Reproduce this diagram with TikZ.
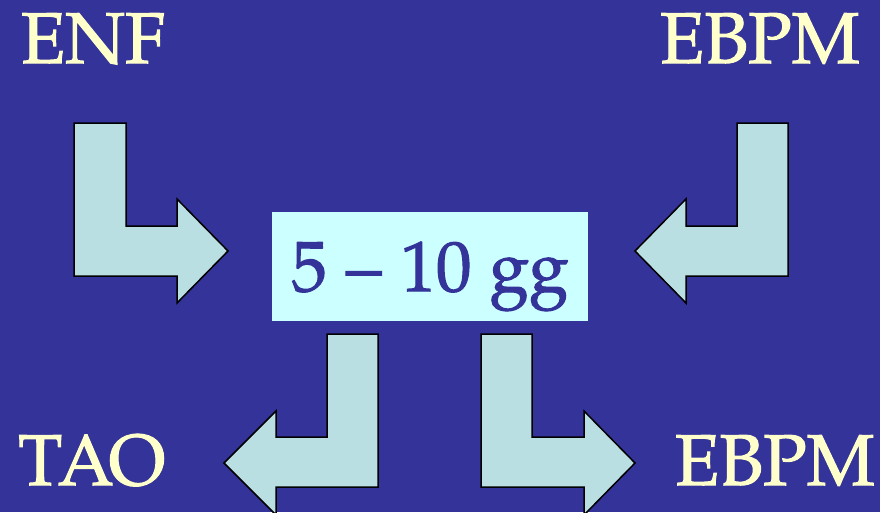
\documentclass[tikz,border=0pt]{standalone}
\usepackage{fontspec}
\setmainfont{TeX Gyre Pagella}[BoldFont={TeX Gyre Pagella}, BoldFeatures={FakeBold=1.5}]
\definecolor{bgblue}{RGB}{51,51,153}
\definecolor{cream}{RGB}{255,255,204}
\definecolor{boxcyan}{RGB}{204,255,255}
\definecolor{arrowfill}{RGB}{185,223,227}
\tikzset{
  lbl/.style={text=cream, font=\fontsize{72}{80}\selectfont\bfseries, inner sep=0pt, anchor=base west},
  bentarrow/.style={fill=arrowfill, draw=black, line width=1.5pt, line join=miter},
}
\begin{document}
\begin{tikzpicture}[x=1pt,y=-1pt]
\useasboundingbox (0,0) rectangle (880,512);
\clip (0,0) rectangle (880,512);
\fill[bgblue] (0,0) rectangle (880,512);
% arrows
\draw[bentarrow] (74,123) -- (126,123) -- (126,226) -- (177,226) -- (177,199) -- (228,251) -- (177,303) -- (177,276) -- (74,276) -- cycle;
\draw[bentarrow] (788,123) -- (737,123) -- (737,226) -- (686,226) -- (686,199) -- (635,251) -- (686,303) -- (686,276) -- (788,276) -- cycle;
\draw[bentarrow] (378,334) -- (327,334) -- (327,437) -- (276,437) -- (276,411) -- (224,463) -- (276,515) -- (276,487) -- (378,487) -- cycle;
\draw[bentarrow] (481,334) -- (532,334) -- (532,437) -- (584,437) -- (584,411) -- (635,463) -- (584,515) -- (584,487) -- (481,487) -- cycle;
% central box
\fill[boxcyan] (272,212) rectangle (588,321);
\node[text=bgblue, font=\fontsize{71}{80}\selectfont\bfseries, inner sep=0pt, anchor=base] (center) at (430,291) {5\hspace{19pt}–\hspace{19pt}10\hspace{18pt}gg};
% labels
\node[lbl] (enf) at (21,63) {ENF};
\node[lbl] (ebpmtop) at (660,63) {EBPM};
\node[lbl] (tao) at (18,485) {TAO};
\node[lbl] (ebpmbot) at (675,485) {EBPM};
\end{tikzpicture}
\end{document}
